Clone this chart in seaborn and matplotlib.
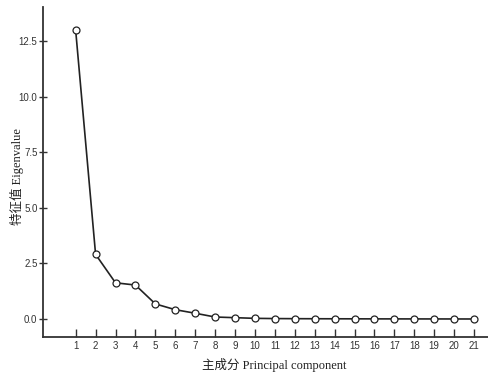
import matplotlib
matplotlib.use("Agg")
import matplotlib.pyplot as plt
import seaborn as sns
import pandas as pd

components = list(range(1, 22))
eigenvalues = [13.0, 2.91, 1.63, 1.53, 0.68, 0.42, 0.26, 0.09, 0.06, 0.03,
               0.02, 0.015, 0.012, 0.01, 0.008, 0.006, 0.005, 0.004, 0.003, 0.002, 0.001]
y_ticks = [0.0, 2.5, 5.0, 7.5, 10.0, 12.5]
x_label = "主成分 Principal component"
y_label = "特征值 Eigenvalue"

sns.set_style("white")
plt.rcParams['font.family'] = ['Liberation Serif', 'Noto Sans CJK SC']

df = pd.DataFrame({"comp": components, "eig": eigenvalues})

W, H = 488, 374
fig = plt.figure(figsize=(W / 100, H / 100), dpi=100)
ax = fig.add_axes([43 / W, (H - 337) / H, (W - 43) / W, (337 - 7) / H])

sns.lineplot(data=df, x="comp", y="eig", ax=ax, color="#222222", linewidth=1.2,
             marker="o", markersize=5, markerfacecolor="white",
             markeredgecolor="#222222", markeredgewidth=0.9)

ax.set_xlim(-0.64, 21.7)
ax.set_ylim(-0.81, 14.05)
ax.set_xticks(components)
ax.set_xticklabels([str(c) for c in components], family=['Liberation Sans'], fontsize=7, color="#333333")
ax.set_yticks(y_ticks)
ax.set_yticklabels([f"{v:.1f}" for v in y_ticks], family=['Liberation Sans'], fontsize=7, color="#333333")
ax.tick_params(axis="x", bottom=True, direction="in", length=6, width=1.0, color="#333333", pad=3)
ax.tick_params(axis="y", left=True, direction="inout", length=6, width=1.0, color="#333333", pad=1)

for s in ["top", "right"]:
    ax.spines[s].set_visible(False)
for s in ["left", "bottom"]:
    ax.spines[s].set_color("#333333")
    ax.spines[s].set_linewidth(1.3)

ax.set_xlabel("")
ax.set_ylabel("")
fig.text(274 / W, 1 - 365 / H, x_label, fontsize=9, color="#222222", ha="center", va="center")
fig.text(17 / W, 1 - 177 / H, y_label, fontsize=9, color="#222222", ha="center", va="center",
         rotation=90)

fig.savefig("out.png", dpi=100)
